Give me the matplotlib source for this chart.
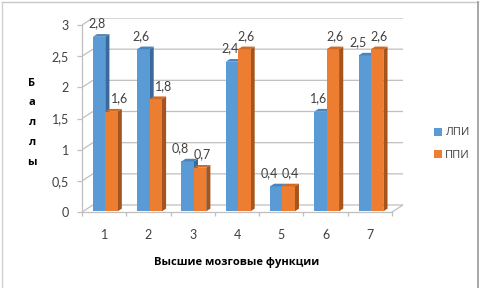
import matplotlib
matplotlib.use("Agg")
import matplotlib.pyplot as plt
from matplotlib.patches import Rectangle, Polygon, Patch
from matplotlib.lines import Line2D

plt.rcParams['font.family'] = ['Open Sans', 'DejaVu Sans']
NUMFONT = ['Lato', 'Open Sans', 'DejaVu Sans']

categories = ['1', '2', '3', '4', '5', '6', '7']
lpi = [2.8, 2.6, 0.8, 2.4, 0.4, 1.6, 2.5]
ppi = [1.6, 1.8, 0.7, 2.6, 0.4, 2.6, 2.6]
series_names = ['ЛПИ', 'ППИ']
yticks = [0, 0.5, 1, 1.5, 2, 2.5, 3]
xlabel = 'Высшие мозговые функции'
ylabel = 'Баллы'

front_cols = ['#5B9BD5', '#ED7D31']
top_cols = ['#4A84BF', '#CF6A27']
side_cols = ['#3A6A9A', '#A5541D']
grid_col = '#BFBFBF'
txt_col = '#404040'

fig = plt.figure(figsize=(4.81, 2.88), dpi=100)
W, H = 481, 288
ax = fig.add_axes([82 / W, (H - 212) / H, (403 - 82) / W, (212 - 18) / H])

n = len(categories)
dx = 11 / 44.3   # depth offset in category units
dy = 7 / 62.3    # depth offset in value units
ax.set_xlim(0.5, n + 0.5 + dx)
ax.set_ylim(0, yticks[-1] + dy)

# back wall grid + left wall diagonals
for v in yticks:
    ax.plot([0.5, 0.5 + dx, n + 0.5 + dx], [v, v + dy, v + dy],
            color=grid_col, lw=0.9, zorder=1, solid_capstyle='butt')
# floor right edge
ax.plot([n + 0.5, n + 0.5 + dx], [0, dy], color=grid_col, lw=0.9, zorder=1)

# bars
w = 0.28
s = 0.10
t = 0.38
z = 2
for i in range(n):
    xc = i + 1
    for k, vals in enumerate([lpi, ppi]):
        v = vals[i]
        x0 = xc - w + k * w + s * dx
        y0 = s * dy
        ex, ey = t * dx, t * dy
        ax.add_patch(Polygon([(x0 + w, y0), (x0 + w + ex, y0 + ey),
                              (x0 + w + ex, v + y0 + ey), (x0 + w, v + y0)],
                             closed=True, facecolor=side_cols[k], edgecolor='none', zorder=z))
        ax.add_patch(Rectangle((x0, y0), w, v, facecolor=front_cols[k],
                               edgecolor='none', zorder=z + 0.1))
        ax.add_patch(Polygon([(x0, v + y0), (x0 + w, v + y0),
                              (x0 + w + ex, v + y0 + ey), (x0 + ex, v + y0 + ey)],
                             closed=True, facecolor=top_cols[k], edgecolor='none', zorder=z + 0.1))
        z += 0.3
        close = abs(ppi[i] - lpi[i]) < 0.15
        if k == 0:
            shift = -5.0 if close else -1.5
        else:
            shift = 6.0 if ppi[i] < lpi[i] - 0.3 else 1.5
        ax.annotate(f"{v:.1f}".replace('.', ','), (x0 + w / 2, v + y0),
                    xytext=(shift, 9.5), textcoords='offset points',
                    ha='center', va='center', fontsize=9, family=NUMFONT,
                    color=txt_col, zorder=20)

# spines
for sp in ['top', 'right']:
    ax.spines[sp].set_visible(False)
ax.spines['left'].set_bounds(0, yticks[-1])
ax.spines['bottom'].set_bounds(0.5, n + 0.5)
for sp in ['left', 'bottom']:
    ax.spines[sp].set_color(grid_col)
    ax.spines[sp].set_linewidth(0.9)
ax.patch.set_visible(False)

ax.set_yticks(yticks)
ax.set_yticklabels([f"{v:g}".replace('.', ',') for v in yticks], family=NUMFONT)
ax.tick_params(axis='y', length=3.5, width=0.9, color=grid_col, pad=6,
               labelsize=9, labelcolor=txt_col)

ax.set_xticks([i + 0.5 for i in range(n + 1)])
ax.set_xticklabels([''] * (n + 1))
ax.set_xticks([i + 1 for i in range(n)], minor=True)
ax.set_xticklabels(categories, minor=True, family=NUMFONT)
ax.tick_params(axis='x', which='major', length=3, width=0.9, color=grid_col, direction='out')
ax.tick_params(axis='x', which='minor', length=0, pad=12.5, labelsize=9, labelcolor=txt_col)

# axis titles
fig.text(237 / W, 1 - 262 / H, xlabel, ha='center', va='center',
         fontsize=8, fontweight='bold', color='#000000')
for j, ch in enumerate(ylabel):
    fig.text(32 / W, 1 - (83 + j * 19.8) / H, ch, ha='center', va='center',
             fontsize=8, fontweight='bold', color='#000000')

# legend
handles = [Patch(facecolor=c, edgecolor='none') for c in front_cols]
fig.legend(handles, series_names, loc='center left',
           bbox_to_anchor=(428 / W, 1 - 144 / H), frameon=False,
           fontsize=8, handlelength=0.75, handleheight=0.75, handletextpad=0.25,
           labelspacing=1.0, borderpad=0, labelcolor=txt_col)

# chart border
fig.add_artist(Line2D([1.5 / W, 478.5 / W], [1 - 1.5 / H, 1 - 1.5 / H], color='#C8C8C8', lw=1))
fig.add_artist(Line2D([1.5 / W, 1.5 / W], [0, 1 - 1.5 / H], color='#D0D0D0', lw=1))
fig.add_artist(Line2D([478.5 / W, 478.5 / W], [0, 1 - 1.5 / H], color='#A0A0A0', lw=1.3))

fig.savefig('out.png', dpi=100)
